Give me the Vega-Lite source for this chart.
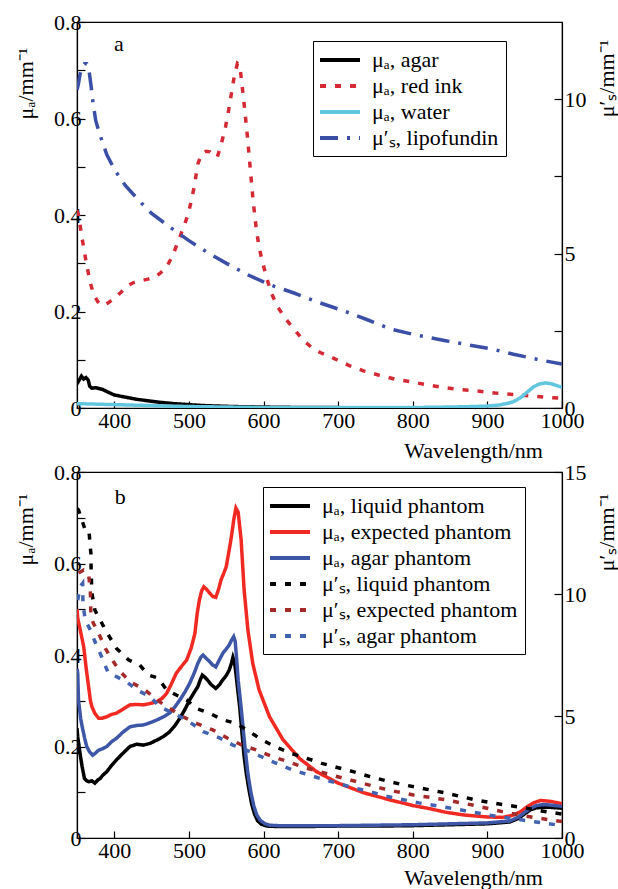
{
  "$schema": "https://vega.github.io/schema/vega-lite/v6.json",
  "padding": {"left": 13, "top": 10, "right": 0, "bottom": 0},
  "config": {
    "font": "Liberation Serif",
    "view": {"stroke": "black", "strokeWidth": 1.2},
    "axis": {"grid": false, "domainColor": "black", "domainWidth": 1.2, "tickColor": "black", "tickWidth": 1.2, "labelColor": "black", "titleColor": "black", "labelFont": "Liberation Serif", "titleFont": "Liberation Serif", "labelFontSize": 22, "titleFontSize": 22, "titleFontWeight": "normal", "labelFlush": false, "labelOverlap": false},
    "legend": {"labelFont": "Liberation Serif", "labelFontSize": 22, "labelColor": "black", "labelLimit": 400},
    "text": {"font": "Liberation Serif"}
  },
  "datasets": {
    "A1": [
      {"s":"μₐ, agar","x":350,"v":0.05},{"s":"μₐ, agar","x":353,"v":0.058},{"s":"μₐ, agar","x":356,"v":0.066},{"s":"μₐ, agar","x":359,"v":0.06},{"s":"μₐ, agar","x":362,"v":0.063},{"s":"μₐ, agar","x":365,"v":0.058},{"s":"μₐ, agar","x":367,"v":0.045},{"s":"μₐ, agar","x":370,"v":0.041},{"s":"μₐ, agar","x":375,"v":0.042},{"s":"μₐ, agar","x":380,"v":0.04},{"s":"μₐ, agar","x":385,"v":0.038},{"s":"μₐ, agar","x":390,"v":0.034},{"s":"μₐ, agar","x":400,"v":0.027},{"s":"μₐ, agar","x":410,"v":0.024},{"s":"μₐ, agar","x":420,"v":0.021},{"s":"μₐ, agar","x":430,"v":0.018},{"s":"μₐ, agar","x":440,"v":0.016},{"s":"μₐ, agar","x":460,"v":0.012},{"s":"μₐ, agar","x":480,"v":0.009},{"s":"μₐ, agar","x":500,"v":0.007},{"s":"μₐ, agar","x":520,"v":0.005},{"s":"μₐ, agar","x":540,"v":0.004},{"s":"μₐ, agar","x":560,"v":0.003},{"s":"μₐ, agar","x":600,"v":0.002},{"s":"μₐ, agar","x":650,"v":0.001},{"s":"μₐ, agar","x":700,"v":0.001},
      {"s":"μₐ, red ink","x":350,"v":0.41},{"s":"μₐ, red ink","x":352,"v":0.4},{"s":"μₐ, red ink","x":357,"v":0.35},{"s":"μₐ, red ink","x":362,"v":0.305},{"s":"μₐ, red ink","x":367,"v":0.265},{"s":"μₐ, red ink","x":372,"v":0.236},{"s":"μₐ, red ink","x":378,"v":0.22},{"s":"μₐ, red ink","x":384,"v":0.212},{"s":"μₐ, red ink","x":392,"v":0.218},{"s":"μₐ, red ink","x":401,"v":0.229},{"s":"μₐ, red ink","x":409,"v":0.24},{"s":"μₐ, red ink","x":417,"v":0.253},{"s":"μₐ, red ink","x":426,"v":0.26},{"s":"μₐ, red ink","x":436,"v":0.264},{"s":"μₐ, red ink","x":445,"v":0.267},{"s":"μₐ, red ink","x":454,"v":0.271},{"s":"μₐ, red ink","x":462,"v":0.28},{"s":"μₐ, red ink","x":470,"v":0.292},{"s":"μₐ, red ink","x":478,"v":0.315},{"s":"μₐ, red ink","x":486,"v":0.347},{"s":"μₐ, red ink","x":493,"v":0.375},{"s":"μₐ, red ink","x":499,"v":0.402},{"s":"μₐ, red ink","x":504,"v":0.435},{"s":"μₐ, red ink","x":507,"v":0.458},{"s":"μₐ, red ink","x":512,"v":0.506},{"s":"μₐ, red ink","x":517,"v":0.527},{"s":"μₐ, red ink","x":523,"v":0.532},{"s":"μₐ, red ink","x":528,"v":0.531},{"s":"μₐ, red ink","x":533,"v":0.524},{"s":"μₐ, red ink","x":538,"v":0.52},{"s":"μₐ, red ink","x":543,"v":0.545},{"s":"μₐ, red ink","x":549,"v":0.582},{"s":"μₐ, red ink","x":553,"v":0.615},{"s":"μₐ, red ink","x":557,"v":0.652},{"s":"μₐ, red ink","x":561,"v":0.69},{"s":"μₐ, red ink","x":565,"v":0.714},{"s":"μₐ, red ink","x":568,"v":0.71},{"s":"μₐ, red ink","x":570,"v":0.686},{"s":"μₐ, red ink","x":574,"v":0.63},{"s":"μₐ, red ink","x":578,"v":0.569},{"s":"μₐ, red ink","x":582,"v":0.5},{"s":"μₐ, red ink","x":586,"v":0.43},{"s":"μₐ, red ink","x":590,"v":0.375},{"s":"μₐ, red ink","x":594,"v":0.333},{"s":"μₐ, red ink","x":599,"v":0.3},{"s":"μₐ, red ink","x":604,"v":0.271},{"s":"μₐ, red ink","x":610,"v":0.24},{"s":"μₐ, red ink","x":618,"v":0.212},{"s":"μₐ, red ink","x":628,"v":0.188},{"s":"μₐ, red ink","x":639,"v":0.167},{"s":"μₐ, red ink","x":654,"v":0.139},{"s":"μₐ, red ink","x":665,"v":0.125},{"s":"μₐ, red ink","x":676,"v":0.115},{"s":"μₐ, red ink","x":697,"v":0.101},{"s":"μₐ, red ink","x":715,"v":0.088},{"s":"μₐ, red ink","x":734,"v":0.077},{"s":"μₐ, red ink","x":755,"v":0.068},{"s":"μₐ, red ink","x":776,"v":0.06},{"s":"μₐ, red ink","x":802,"v":0.053},{"s":"μₐ, red ink","x":823,"v":0.047},{"s":"μₐ, red ink","x":844,"v":0.042},{"s":"μₐ, red ink","x":865,"v":0.038},{"s":"μₐ, red ink","x":887,"v":0.035},{"s":"μₐ, red ink","x":910,"v":0.031},{"s":"μₐ, red ink","x":934,"v":0.028},{"s":"μₐ, red ink","x":960,"v":0.025},{"s":"μₐ, red ink","x":980,"v":0.022},{"s":"μₐ, red ink","x":1000,"v":0.02},
      {"s":"μₐ, water","x":350,"v":0.009},{"s":"μₐ, water","x":400,"v":0.007},{"s":"μₐ, water","x":450,"v":0.005},{"s":"μₐ, water","x":500,"v":0.003},{"s":"μₐ, water","x":550,"v":0.002},{"s":"μₐ, water","x":600,"v":0.001},{"s":"μₐ, water","x":700,"v":0.001},{"s":"μₐ, water","x":800,"v":0.001},{"s":"μₐ, water","x":850,"v":0.002},{"s":"μₐ, water","x":880,"v":0.003},{"s":"μₐ, water","x":900,"v":0.004},{"s":"μₐ, water","x":915,"v":0.006},{"s":"μₐ, water","x":925,"v":0.009},{"s":"μₐ, water","x":935,"v":0.013},{"s":"μₐ, water","x":945,"v":0.022},{"s":"μₐ, water","x":955,"v":0.035},{"s":"μₐ, water","x":962,"v":0.044},{"s":"μₐ, water","x":970,"v":0.05},{"s":"μₐ, water","x":978,"v":0.052},{"s":"μₐ, water","x":986,"v":0.05},{"s":"μₐ, water","x":994,"v":0.046},{"s":"μₐ, water","x":1000,"v":0.043}
    ],
    "A2": [
      {"s":"μ′ₛ, lipofundin","x":350,"v":10.3},{"s":"μ′ₛ, lipofundin","x":352,"v":10.5},{"s":"μ′ₛ, lipofundin","x":354,"v":10.8},{"s":"μ′ₛ, lipofundin","x":357,"v":11.05},{"s":"μ′ₛ, lipofundin","x":360,"v":11.15},{"s":"μ′ₛ, lipofundin","x":363,"v":11.15},{"s":"μ′ₛ, lipofundin","x":366,"v":10.95},{"s":"μ′ₛ, lipofundin","x":369,"v":10.4},{"s":"μ′ₛ, lipofundin","x":371,"v":9.97},{"s":"μ′ₛ, lipofundin","x":375,"v":9.32},{"s":"μ′ₛ, lipofundin","x":380,"v":8.9},{"s":"μ′ₛ, lipofundin","x":390,"v":8.2},{"s":"μ′ₛ, lipofundin","x":401,"v":7.69},{"s":"μ′ₛ, lipofundin","x":415,"v":7.2},{"s":"μ′ₛ, lipofundin","x":433,"v":6.72},{"s":"μ′ₛ, lipofundin","x":450,"v":6.3},{"s":"μ′ₛ, lipofundin","x":475,"v":5.85},{"s":"μ′ₛ, lipofundin","x":500,"v":5.42},{"s":"μ′ₛ, lipofundin","x":528,"v":4.99},{"s":"μ′ₛ, lipofundin","x":555,"v":4.62},{"s":"μ′ₛ, lipofundin","x":581,"v":4.29},{"s":"μ′ₛ, lipofundin","x":610,"v":3.98},{"s":"μ′ₛ, lipofundin","x":639,"v":3.74},{"s":"μ′ₛ, lipofundin","x":670,"v":3.45},{"s":"μ′ₛ, lipofundin","x":707,"v":3.15},{"s":"μ′ₛ, lipofundin","x":740,"v":2.85},{"s":"μ′ₛ, lipofundin","x":771,"v":2.55},{"s":"μ′ₛ, lipofundin","x":805,"v":2.36},{"s":"μ′ₛ, lipofundin","x":844,"v":2.18},{"s":"μ′ₛ, lipofundin","x":875,"v":2.04},{"s":"μ′ₛ, lipofundin","x":908,"v":1.9},{"s":"μ′ₛ, lipofundin","x":935,"v":1.74},{"s":"μ′ₛ, lipofundin","x":966,"v":1.58},{"s":"μ′ₛ, lipofundin","x":1000,"v":1.42}
    ],
    "B1": [
      {"s":"μₐ, liquid phantom","x":350,"v":0.24},{"s":"μₐ, liquid phantom","x":351,"v":0.221},{"s":"μₐ, liquid phantom","x":354,"v":0.185},{"s":"μₐ, liquid phantom","x":357,"v":0.155},{"s":"μₐ, liquid phantom","x":360,"v":0.13},{"s":"μₐ, liquid phantom","x":363,"v":0.125},{"s":"μₐ, liquid phantom","x":366,"v":0.123},{"s":"μₐ, liquid phantom","x":370,"v":0.125},{"s":"μₐ, liquid phantom","x":374,"v":0.12},{"s":"μₐ, liquid phantom","x":378,"v":0.127},{"s":"μₐ, liquid phantom","x":381,"v":0.13},{"s":"μₐ, liquid phantom","x":385,"v":0.138},{"s":"μₐ, liquid phantom","x":390,"v":0.145},{"s":"μₐ, liquid phantom","x":396,"v":0.158},{"s":"μₐ, liquid phantom","x":403,"v":0.171},{"s":"μₐ, liquid phantom","x":412,"v":0.186},{"s":"μₐ, liquid phantom","x":421,"v":0.2},{"s":"μₐ, liquid phantom","x":430,"v":0.205},{"s":"μₐ, liquid phantom","x":439,"v":0.203},{"s":"μₐ, liquid phantom","x":448,"v":0.207},{"s":"μₐ, liquid phantom","x":457,"v":0.214},{"s":"μₐ, liquid phantom","x":466,"v":0.222},{"s":"μₐ, liquid phantom","x":474,"v":0.232},{"s":"μₐ, liquid phantom","x":481,"v":0.245},{"s":"μₐ, liquid phantom","x":488,"v":0.262},{"s":"μₐ, liquid phantom","x":495,"v":0.282},{"s":"μₐ, liquid phantom","x":501,"v":0.302},{"s":"μₐ, liquid phantom","x":507,"v":0.318},{"s":"μₐ, liquid phantom","x":512,"v":0.331},{"s":"μₐ, liquid phantom","x":515,"v":0.345},{"s":"μₐ, liquid phantom","x":518,"v":0.356},{"s":"μₐ, liquid phantom","x":521,"v":0.352},{"s":"μₐ, liquid phantom","x":525,"v":0.345},{"s":"μₐ, liquid phantom","x":530,"v":0.335},{"s":"μₐ, liquid phantom","x":536,"v":0.327},{"s":"μₐ, liquid phantom","x":541,"v":0.335},{"s":"μₐ, liquid phantom","x":545,"v":0.345},{"s":"μₐ, liquid phantom","x":550,"v":0.355},{"s":"μₐ, liquid phantom","x":554,"v":0.367},{"s":"μₐ, liquid phantom","x":557,"v":0.382},{"s":"μₐ, liquid phantom","x":559,"v":0.395},{"s":"μₐ, liquid phantom","x":561,"v":0.385},{"s":"μₐ, liquid phantom","x":563,"v":0.36},{"s":"μₐ, liquid phantom","x":565,"v":0.33},{"s":"μₐ, liquid phantom","x":568,"v":0.287},{"s":"μₐ, liquid phantom","x":571,"v":0.232},{"s":"μₐ, liquid phantom","x":574,"v":0.178},{"s":"μₐ, liquid phantom","x":577,"v":0.14},{"s":"μₐ, liquid phantom","x":580,"v":0.11},{"s":"μₐ, liquid phantom","x":584,"v":0.075},{"s":"μₐ, liquid phantom","x":588,"v":0.052},{"s":"μₐ, liquid phantom","x":592,"v":0.038},{"s":"μₐ, liquid phantom","x":597,"v":0.03},{"s":"μₐ, liquid phantom","x":605,"v":0.026},{"s":"μₐ, liquid phantom","x":620,"v":0.025},{"s":"μₐ, liquid phantom","x":650,"v":0.025},{"s":"μₐ, liquid phantom","x":700,"v":0.026},{"s":"μₐ, liquid phantom","x":750,"v":0.026},{"s":"μₐ, liquid phantom","x":800,"v":0.027},{"s":"μₐ, liquid phantom","x":850,"v":0.029},{"s":"μₐ, liquid phantom","x":900,"v":0.031},{"s":"μₐ, liquid phantom","x":930,"v":0.035},{"s":"μₐ, liquid phantom","x":942,"v":0.043},{"s":"μₐ, liquid phantom","x":950,"v":0.053},{"s":"μₐ, liquid phantom","x":958,"v":0.062},{"s":"μₐ, liquid phantom","x":966,"v":0.066},{"s":"μₐ, liquid phantom","x":975,"v":0.067},{"s":"μₐ, liquid phantom","x":985,"v":0.067},{"s":"μₐ, liquid phantom","x":1000,"v":0.065},
      {"s":"μₐ, expected phantom","x":350,"v":0.5},{"s":"μₐ, expected phantom","x":351,"v":0.48},{"s":"μₐ, expected phantom","x":355,"v":0.45},{"s":"μₐ, expected phantom","x":359,"v":0.418},{"s":"μₐ, expected phantom","x":362,"v":0.375},{"s":"μₐ, expected phantom","x":365.5,"v":0.331},{"s":"μₐ, expected phantom","x":368,"v":0.3},{"s":"μₐ, expected phantom","x":370,"v":0.287},{"s":"μₐ, expected phantom","x":374,"v":0.272},{"s":"μₐ, expected phantom","x":379,"v":0.262},{"s":"μₐ, expected phantom","x":384,"v":0.262},{"s":"μₐ, expected phantom","x":390,"v":0.265},{"s":"μₐ, expected phantom","x":396,"v":0.27},{"s":"μₐ, expected phantom","x":403,"v":0.273},{"s":"μₐ, expected phantom","x":412,"v":0.282},{"s":"μₐ, expected phantom","x":421,"v":0.291},{"s":"μₐ, expected phantom","x":430,"v":0.292},{"s":"μₐ, expected phantom","x":439,"v":0.291},{"s":"μₐ, expected phantom","x":448,"v":0.294},{"s":"μₐ, expected phantom","x":457,"v":0.298},{"s":"μₐ, expected phantom","x":464,"v":0.305},{"s":"μₐ, expected phantom","x":470,"v":0.316},{"s":"μₐ, expected phantom","x":476,"v":0.335},{"s":"μₐ, expected phantom","x":483,"v":0.36},{"s":"μₐ, expected phantom","x":490,"v":0.375},{"s":"μₐ, expected phantom","x":497,"v":0.389},{"s":"μₐ, expected phantom","x":503,"v":0.415},{"s":"μₐ, expected phantom","x":508,"v":0.447},{"s":"μₐ, expected phantom","x":511,"v":0.49},{"s":"μₐ, expected phantom","x":514,"v":0.52},{"s":"μₐ, expected phantom","x":517,"v":0.54},{"s":"μₐ, expected phantom","x":520,"v":0.549},{"s":"μₐ, expected phantom","x":524,"v":0.543},{"s":"μₐ, expected phantom","x":528,"v":0.535},{"s":"μₐ, expected phantom","x":532,"v":0.528},{"s":"μₐ, expected phantom","x":536,"v":0.526},{"s":"μₐ, expected phantom","x":540,"v":0.545},{"s":"μₐ, expected phantom","x":543,"v":0.564},{"s":"μₐ, expected phantom","x":547,"v":0.58},{"s":"μₐ, expected phantom","x":550,"v":0.593},{"s":"μₐ, expected phantom","x":554,"v":0.63},{"s":"μₐ, expected phantom","x":557,"v":0.659},{"s":"μₐ, expected phantom","x":560,"v":0.695},{"s":"μₐ, expected phantom","x":563,"v":0.721},{"s":"μₐ, expected phantom","x":566,"v":0.712},{"s":"μₐ, expected phantom","x":570,"v":0.651},{"s":"μₐ, expected phantom","x":574,"v":0.542},{"s":"μₐ, expected phantom","x":579,"v":0.455},{"s":"μₐ, expected phantom","x":585.5,"v":0.382},{"s":"μₐ, expected phantom","x":594,"v":0.324},{"s":"μₐ, expected phantom","x":608,"v":0.265},{"s":"μₐ, expected phantom","x":626,"v":0.215},{"s":"μₐ, expected phantom","x":648,"v":0.174},{"s":"μₐ, expected phantom","x":671,"v":0.145},{"s":"μₐ, expected phantom","x":700,"v":0.12},{"s":"μₐ, expected phantom","x":734,"v":0.099},{"s":"μₐ, expected phantom","x":770,"v":0.083},{"s":"μₐ, expected phantom","x":800,"v":0.071},{"s":"μₐ, expected phantom","x":823,"v":0.064},{"s":"μₐ, expected phantom","x":845,"v":0.056},{"s":"μₐ, expected phantom","x":870,"v":0.05},{"s":"μₐ, expected phantom","x":900,"v":0.046},{"s":"μₐ, expected phantom","x":920,"v":0.045},{"s":"μₐ, expected phantom","x":935,"v":0.05},{"s":"μₐ, expected phantom","x":945,"v":0.058},{"s":"μₐ, expected phantom","x":953,"v":0.068},{"s":"μₐ, expected phantom","x":962,"v":0.077},{"s":"μₐ, expected phantom","x":971,"v":0.082},{"s":"μₐ, expected phantom","x":985,"v":0.08},{"s":"μₐ, expected phantom","x":1000,"v":0.075},
      {"s":"μₐ, agar phantom","x":350,"v":0.37},{"s":"μₐ, agar phantom","x":351,"v":0.36},{"s":"μₐ, agar phantom","x":352,"v":0.302},{"s":"μₐ, agar phantom","x":355,"v":0.26},{"s":"μₐ, agar phantom","x":357,"v":0.243},{"s":"μₐ, agar phantom","x":360,"v":0.22},{"s":"μₐ, agar phantom","x":363,"v":0.2},{"s":"μₐ, agar phantom","x":367,"v":0.188},{"s":"μₐ, agar phantom","x":371,"v":0.181},{"s":"μₐ, agar phantom","x":375,"v":0.186},{"s":"μₐ, agar phantom","x":379,"v":0.192},{"s":"μₐ, agar phantom","x":384,"v":0.195},{"s":"μₐ, agar phantom","x":390,"v":0.2},{"s":"μₐ, agar phantom","x":396,"v":0.21},{"s":"μₐ, agar phantom","x":403,"v":0.218},{"s":"μₐ, agar phantom","x":412,"v":0.232},{"s":"μₐ, agar phantom","x":421,"v":0.243},{"s":"μₐ, agar phantom","x":430,"v":0.246},{"s":"μₐ, agar phantom","x":439,"v":0.247},{"s":"μₐ, agar phantom","x":448,"v":0.252},{"s":"μₐ, agar phantom","x":457,"v":0.258},{"s":"μₐ, agar phantom","x":466,"v":0.265},{"s":"μₐ, agar phantom","x":474,"v":0.273},{"s":"μₐ, agar phantom","x":481,"v":0.286},{"s":"μₐ, agar phantom","x":488,"v":0.302},{"s":"μₐ, agar phantom","x":495,"v":0.32},{"s":"μₐ, agar phantom","x":501,"v":0.338},{"s":"μₐ, agar phantom","x":507,"v":0.36},{"s":"μₐ, agar phantom","x":512,"v":0.382},{"s":"μₐ, agar phantom","x":516,"v":0.395},{"s":"μₐ, agar phantom","x":519,"v":0.4},{"s":"μₐ, agar phantom","x":523,"v":0.393},{"s":"μₐ, agar phantom","x":528,"v":0.385},{"s":"μₐ, agar phantom","x":532,"v":0.378},{"s":"μₐ, agar phantom","x":536,"v":0.374},{"s":"μₐ, agar phantom","x":541,"v":0.39},{"s":"μₐ, agar phantom","x":545.5,"v":0.404},{"s":"μₐ, agar phantom","x":550,"v":0.413},{"s":"μₐ, agar phantom","x":554,"v":0.422},{"s":"μₐ, agar phantom","x":557,"v":0.432},{"s":"μₐ, agar phantom","x":560,"v":0.44},{"s":"μₐ, agar phantom","x":562,"v":0.43},{"s":"μₐ, agar phantom","x":564,"v":0.39},{"s":"μₐ, agar phantom","x":566,"v":0.345},{"s":"μₐ, agar phantom","x":569,"v":0.3},{"s":"μₐ, agar phantom","x":572,"v":0.251},{"s":"μₐ, agar phantom","x":575,"v":0.2},{"s":"μₐ, agar phantom","x":579,"v":0.141},{"s":"μₐ, agar phantom","x":583,"v":0.1},{"s":"μₐ, agar phantom","x":587,"v":0.07},{"s":"μₐ, agar phantom","x":591,"v":0.05},{"s":"μₐ, agar phantom","x":596,"v":0.038},{"s":"μₐ, agar phantom","x":602,"v":0.031},{"s":"μₐ, agar phantom","x":608,"v":0.028},{"s":"μₐ, agar phantom","x":620,"v":0.027},{"s":"μₐ, agar phantom","x":650,"v":0.027},{"s":"μₐ, agar phantom","x":700,"v":0.027},{"s":"μₐ, agar phantom","x":750,"v":0.028},{"s":"μₐ, agar phantom","x":800,"v":0.029},{"s":"μₐ, agar phantom","x":850,"v":0.031},{"s":"μₐ, agar phantom","x":900,"v":0.033},{"s":"μₐ, agar phantom","x":930,"v":0.037},{"s":"μₐ, agar phantom","x":942,"v":0.046},{"s":"μₐ, agar phantom","x":950,"v":0.056},{"s":"μₐ, agar phantom","x":958,"v":0.065},{"s":"μₐ, agar phantom","x":966,"v":0.071},{"s":"μₐ, agar phantom","x":975,"v":0.073},{"s":"μₐ, agar phantom","x":985,"v":0.072},{"s":"μₐ, agar phantom","x":1000,"v":0.069}
    ],
    "B2": [
      {"s":"μ′ₛ, liquid phantom","x":350,"v":13.5},{"s":"μ′ₛ, liquid phantom","x":352,"v":13.44},{"s":"μ′ₛ, liquid phantom","x":356.6,"v":13.03},{"s":"μ′ₛ, liquid phantom","x":361,"v":12.62},{"s":"μ′ₛ, liquid phantom","x":366,"v":12.6},{"s":"μ′ₛ, liquid phantom","x":368.6,"v":11.67},{"s":"μ′ₛ, liquid phantom","x":369,"v":10.85},{"s":"μ′ₛ, liquid phantom","x":370,"v":10.03},{"s":"μ′ₛ, liquid phantom","x":374,"v":9.34},{"s":"μ′ₛ, liquid phantom","x":381,"v":8.93},{"s":"μ′ₛ, liquid phantom","x":392,"v":8.32},{"s":"μ′ₛ, liquid phantom","x":403,"v":7.77},{"s":"μ′ₛ, liquid phantom","x":419,"v":7.3},{"s":"μ′ₛ, liquid phantom","x":434,"v":7.09},{"s":"μ′ₛ, liquid phantom","x":445.6,"v":6.68},{"s":"μ′ₛ, liquid phantom","x":459,"v":6.55},{"s":"μ′ₛ, liquid phantom","x":470,"v":6.07},{"s":"μ′ₛ, liquid phantom","x":483,"v":5.86},{"s":"μ′ₛ, liquid phantom","x":497,"v":5.66},{"s":"μ′ₛ, liquid phantom","x":510,"v":5.31},{"s":"μ′ₛ, liquid phantom","x":528,"v":5.11},{"s":"μ′ₛ, liquid phantom","x":545.5,"v":4.84},{"s":"μ′ₛ, liquid phantom","x":563,"v":4.7},{"s":"μ′ₛ, liquid phantom","x":581,"v":4.36},{"s":"μ′ₛ, liquid phantom","x":599,"v":4.0},{"s":"μ′ₛ, liquid phantom","x":617,"v":3.72},{"s":"μ′ₛ, liquid phantom","x":637,"v":3.47},{"s":"μ′ₛ, liquid phantom","x":657,"v":3.27},{"s":"μ′ₛ, liquid phantom","x":678,"v":3.06},{"s":"μ′ₛ, liquid phantom","x":700,"v":2.88},{"s":"μ′ₛ, liquid phantom","x":720,"v":2.72},{"s":"μ′ₛ, liquid phantom","x":740,"v":2.54},{"s":"μ′ₛ, liquid phantom","x":764,"v":2.35},{"s":"μ′ₛ, liquid phantom","x":783,"v":2.21},{"s":"μ′ₛ, liquid phantom","x":805,"v":2.08},{"s":"μ′ₛ, liquid phantom","x":845,"v":1.84},{"s":"μ′ₛ, liquid phantom","x":884,"v":1.56},{"s":"μ′ₛ, liquid phantom","x":925,"v":1.35},{"s":"μ′ₛ, liquid phantom","x":953,"v":1.22},{"s":"μ′ₛ, liquid phantom","x":975,"v":1.1},{"s":"μ′ₛ, liquid phantom","x":1000,"v":0.98},
      {"s":"μ′ₛ, expected phantom","x":352,"v":10.86},{"s":"μ′ₛ, expected phantom","x":359,"v":10.98},{"s":"μ′ₛ, expected phantom","x":365.5,"v":10.85},{"s":"μ′ₛ, expected phantom","x":368,"v":10.03},{"s":"μ′ₛ, expected phantom","x":368.6,"v":9.07},{"s":"μ′ₛ, expected phantom","x":372,"v":8.8},{"s":"μ′ₛ, expected phantom","x":379,"v":8.39},{"s":"μ′ₛ, expected phantom","x":388,"v":7.77},{"s":"μ′ₛ, expected phantom","x":397,"v":7.3},{"s":"μ′ₛ, expected phantom","x":408,"v":6.82},{"s":"μ′ₛ, expected phantom","x":421,"v":6.41},{"s":"μ′ₛ, expected phantom","x":441,"v":6.07},{"s":"μ′ₛ, expected phantom","x":457,"v":5.66},{"s":"μ′ₛ, expected phantom","x":474,"v":5.31},{"s":"μ′ₛ, expected phantom","x":492,"v":4.97},{"s":"μ′ₛ, expected phantom","x":510,"v":4.7},{"s":"μ′ₛ, expected phantom","x":532,"v":4.43},{"s":"μ′ₛ, expected phantom","x":552,"v":4.09},{"s":"μ′ₛ, expected phantom","x":571,"v":3.81},{"s":"μ′ₛ, expected phantom","x":590,"v":3.61},{"s":"μ′ₛ, expected phantom","x":612,"v":3.33},{"s":"μ′ₛ, expected phantom","x":633,"v":3.13},{"s":"μ′ₛ, expected phantom","x":653,"v":2.9},{"s":"μ′ₛ, expected phantom","x":675,"v":2.72},{"s":"μ′ₛ, expected phantom","x":696,"v":2.54},{"s":"μ′ₛ, expected phantom","x":716,"v":2.38},{"s":"μ′ₛ, expected phantom","x":738,"v":2.2},{"s":"μ′ₛ, expected phantom","x":758,"v":2.04},{"s":"μ′ₛ, expected phantom","x":778,"v":1.9},{"s":"μ′ₛ, expected phantom","x":801,"v":1.76},{"s":"μ′ₛ, expected phantom","x":820,"v":1.68},{"s":"μ′ₛ, expected phantom","x":845,"v":1.56},{"s":"μ′ₛ, expected phantom","x":880,"v":1.35},{"s":"μ′ₛ, expected phantom","x":920,"v":1.08},{"s":"μ′ₛ, expected phantom","x":955,"v":0.88},{"s":"μ′ₛ, expected phantom","x":984,"v":0.74},{"s":"μ′ₛ, expected phantom","x":1000,"v":0.68},
      {"s":"μ′ₛ, agar phantom","x":351,"v":9.75},{"s":"μ′ₛ, agar phantom","x":354,"v":10.3},{"s":"μ′ₛ, agar phantom","x":357.6,"v":10.44},{"s":"μ′ₛ, agar phantom","x":358,"v":9.62},{"s":"μ′ₛ, agar phantom","x":361,"v":8.93},{"s":"μ′ₛ, agar phantom","x":368,"v":8.52},{"s":"μ′ₛ, agar phantom","x":374,"v":8.05},{"s":"μ′ₛ, agar phantom","x":383,"v":7.43},{"s":"μ′ₛ, agar phantom","x":392,"v":6.75},{"s":"μ′ₛ, agar phantom","x":403,"v":6.61},{"s":"μ′ₛ, agar phantom","x":416,"v":6.41},{"s":"μ′ₛ, agar phantom","x":430,"v":6.07},{"s":"μ′ₛ, agar phantom","x":448,"v":5.79},{"s":"μ′ₛ, agar phantom","x":461,"v":5.38},{"s":"μ′ₛ, agar phantom","x":479,"v":5.11},{"s":"μ′ₛ, agar phantom","x":497,"v":4.84},{"s":"μ′ₛ, agar phantom","x":519,"v":4.36},{"s":"μ′ₛ, agar phantom","x":541,"v":4.1},{"s":"μ′ₛ, agar phantom","x":559,"v":3.81},{"s":"μ′ₛ, agar phantom","x":577,"v":3.6},{"s":"μ′ₛ, agar phantom","x":595,"v":3.36},{"s":"μ′ₛ, agar phantom","x":615,"v":3.09},{"s":"μ′ₛ, agar phantom","x":637,"v":2.81},{"s":"μ′ₛ, agar phantom","x":657,"v":2.62},{"s":"μ′ₛ, agar phantom","x":678,"v":2.42},{"s":"μ′ₛ, agar phantom","x":700,"v":2.24},{"s":"μ′ₛ, agar phantom","x":720,"v":2.06},{"s":"μ′ₛ, agar phantom","x":743,"v":1.9},{"s":"μ′ₛ, agar phantom","x":763,"v":1.72},{"s":"μ′ₛ, agar phantom","x":786,"v":1.58},{"s":"μ′ₛ, agar phantom","x":808,"v":1.44},{"s":"μ′ₛ, agar phantom","x":830,"v":1.33},{"s":"μ′ₛ, agar phantom","x":870,"v":1.12},{"s":"μ′ₛ, agar phantom","x":910,"v":0.9},{"s":"μ′ₛ, agar phantom","x":955,"v":0.7},{"s":"μ′ₛ, agar phantom","x":980,"v":0.6},{"s":"μ′ₛ, agar phantom","x":1000,"v":0.5}
    ],
    "LA": [{"t":"a","x":406,"v":0.754}],
    "LB": [{"t":"b","x":408,"v":0.746}]
  },
  "spacing": -2,
  "resolve": {"scale": {"color": "independent", "strokeDash": "independent"}, "legend": {"color": "independent", "strokeDash": "independent"}},
  "vconcat": [
    {
      "width": 485, "height": 386,
      "resolve": {"scale": {"y": "independent"}},
      "layer": [
        {
          "data": {"name": "A1"},
          "mark": {"type": "line", "strokeWidth": 3.5, "clip": true},
          "encoding": {
            "x": {"field": "x", "type": "quantitative", "scale": {"domain": [350, 1000], "nice": false}, "axis": {"values": [400,500,600,700,800,900,1000], "format": "d", "labelFont": "Liberation Serif", "titleFont": "Liberation Serif", "title": "Wavelength/nm", "titleX": 396, "titleY": 42, "titleAlign": "center", "titleBaseline": "middle", "tickSize": -7, "labelPadding": 9}},
            "y": {"field": "v", "type": "quantitative", "scale": {"domain": [0, 0.8], "nice": false}, "axis": {"values": [0,0.1,0.2,0.3,0.4,0.5,0.6,0.7,0.8], "format": "~g", "labelFont": "Liberation Serif", "titleFont": "Liberation Serif", "labelExpr": "round(datum.value*10) % 2 == 0 ? datum.label : ''", "tickSize": -8, "labelPadding": 4, "title": "μₐ/mm⁻¹", "titleAngle": -90, "titleX": -52, "titleY": 61, "titleAlign": "center", "titleBaseline": "middle"}},
            "color": {"field": "s", "type": "nominal", "scale": {"domain": ["μₐ, agar", "μₐ, red ink", "μₐ, water", "μ′ₛ, lipofundin"], "range": ["#000000", "#d42a35", "#62c6de", "#3b4fa6"]}, "legend": {"orient": "none", "legendX": 236, "legendY": 19, "title": null, "strokeColor": "black", "padding": 7, "symbolType": "M-2,0L2,0", "symbolSize": 400, "symbolStrokeWidth": 4, "symbolOffset": 8, "rowPadding": 3, "labelOffset": 20, "labelFont": "Liberation Serif"}},
            "strokeDash": {"field": "s", "type": "nominal", "scale": {"domain": ["μₐ, agar", "μₐ, red ink", "μₐ, water", "μ′ₛ, lipofundin"], "range": [[1,0],[6,9],[1,0],[18,9,3,9]]}, "legend": {"orient": "none", "legendX": 236, "legendY": 19, "title": null, "strokeColor": "black", "padding": 7, "symbolType": "M-2,0L2,0", "symbolSize": 400, "symbolStrokeWidth": 4, "symbolOffset": 8, "rowPadding": 3, "labelOffset": 20, "labelFont": "Liberation Serif"}}
          }
        },
        {
          "data": {"name": "A2"},
          "mark": {"type": "line", "strokeWidth": 3.5, "clip": true},
          "encoding": {
            "x": {"field": "x", "type": "quantitative"},
            "y": {"field": "v", "type": "quantitative", "scale": {"domain": [0, 12.5], "nice": false}, "axis": {"orient": "right", "values": [0,2.5,5,7.5,10], "format": "~g", "labelFont": "Liberation Serif", "titleFont": "Liberation Serif", "labelExpr": "datum.value % 5 == 0 ? datum.label : ''", "tickSize": -8, "labelPadding": 10, "title": "μ′ₛ/mm⁻¹", "titleAngle": -90, "titleX": 44, "titleY": 56, "titleAlign": "center", "titleBaseline": "middle"}},
            "color": {"field": "s", "type": "nominal"},
            "strokeDash": {"field": "s", "type": "nominal"}
          }
        },
        {
          "data": {"name": "LA"},
          "mark": {"type": "text", "fontSize": 22, "font": "Liberation Serif", "align": "center", "baseline": "middle", "color": "black"},
          "encoding": {
            "x": {"field": "x", "type": "quantitative"},
            "y": {"field": "v", "type": "quantitative", "scale": {"domain": [0, 0.8], "nice": false}, "axis": null},
            "text": {"field": "t"}
          }
        }
      ]
    },
    {
      "width": 485, "height": 366,
      "resolve": {"scale": {"y": "independent"}},
      "layer": [
        {
          "data": {"name": "B1"},
          "mark": {"type": "line", "strokeWidth": 3.5, "clip": true},
          "encoding": {
            "x": {"field": "x", "type": "quantitative", "scale": {"domain": [350, 1000], "nice": false}, "axis": {"values": [400,500,600,700,800,900,1000], "format": "d", "labelFont": "Liberation Serif", "titleFont": "Liberation Serif", "title": "Wavelength/nm", "titleX": 396, "titleY": 39, "titleAlign": "center", "titleBaseline": "middle", "tickSize": -7, "labelPadding": 9}},
            "y": {"field": "v", "type": "quantitative", "scale": {"domain": [0, 0.8], "nice": false}, "axis": {"values": [0,0.1,0.2,0.3,0.4,0.5,0.6,0.7,0.8], "format": "~g", "labelFont": "Liberation Serif", "titleFont": "Liberation Serif", "labelExpr": "round(datum.value*10) % 2 == 0 ? datum.label : ''", "tickSize": -8, "labelPadding": 4, "title": "μₐ/mm⁻¹", "titleAngle": -90, "titleX": -52, "titleY": 57, "titleAlign": "center", "titleBaseline": "middle"}},
            "color": {"field": "s", "type": "nominal", "scale": {"domain": ["μₐ, liquid phantom", "μₐ, expected phantom", "μₐ, agar phantom", "μ′ₛ, liquid phantom", "μ′ₛ, expected phantom", "μ′ₛ, agar phantom"], "range": ["#000000", "#f02a22", "#3e56a6", "#000000", "#a52a2a", "#4263b0"]}, "legend": {"orient": "none", "legendX": 186, "legendY": 15, "title": null, "strokeColor": "black", "padding": 7, "symbolType": "M-2,0L2,0", "symbolSize": 400, "symbolStrokeWidth": 4, "symbolOffset": 8, "rowPadding": 3, "labelOffset": 20, "labelFont": "Liberation Serif"}},
            "strokeDash": {"field": "s", "type": "nominal", "scale": {"domain": ["μₐ, liquid phantom", "μₐ, expected phantom", "μₐ, agar phantom", "μ′ₛ, liquid phantom", "μ′ₛ, expected phantom", "μ′ₛ, agar phantom"], "range": [[1,0],[1,0],[1,0],[6,9],[6,9],[6,9]]}, "legend": {"orient": "none", "legendX": 186, "legendY": 15, "title": null, "strokeColor": "black", "padding": 7, "symbolType": "M-2,0L2,0", "symbolSize": 400, "symbolStrokeWidth": 4, "symbolOffset": 8, "rowPadding": 3, "labelOffset": 20, "labelFont": "Liberation Serif"}}
          }
        },
        {
          "data": {"name": "B2"},
          "mark": {"type": "line", "strokeWidth": 3.5, "clip": true},
          "encoding": {
            "x": {"field": "x", "type": "quantitative"},
            "y": {"field": "v", "type": "quantitative", "scale": {"domain": [0, 15], "nice": false}, "axis": {"orient": "right", "values": [0,5,10,15], "format": "~g", "labelFont": "Liberation Serif", "titleFont": "Liberation Serif", "tickSize": -8, "labelPadding": 10, "title": "μ′ₛ/mm⁻¹", "titleAngle": -90, "titleX": 44, "titleY": 60, "titleAlign": "center", "titleBaseline": "middle"}},
            "color": {"field": "s", "type": "nominal"},
            "strokeDash": {"field": "s", "type": "nominal"}
          }
        },
        {
          "data": {"name": "LB"},
          "mark": {"type": "text", "fontSize": 22, "font": "Liberation Serif", "align": "center", "baseline": "middle", "color": "black"},
          "encoding": {
            "x": {"field": "x", "type": "quantitative"},
            "y": {"field": "v", "type": "quantitative", "scale": {"domain": [0, 0.8], "nice": false}, "axis": null},
            "text": {"field": "t"}
          }
        }
      ]
    }
  ]
}
